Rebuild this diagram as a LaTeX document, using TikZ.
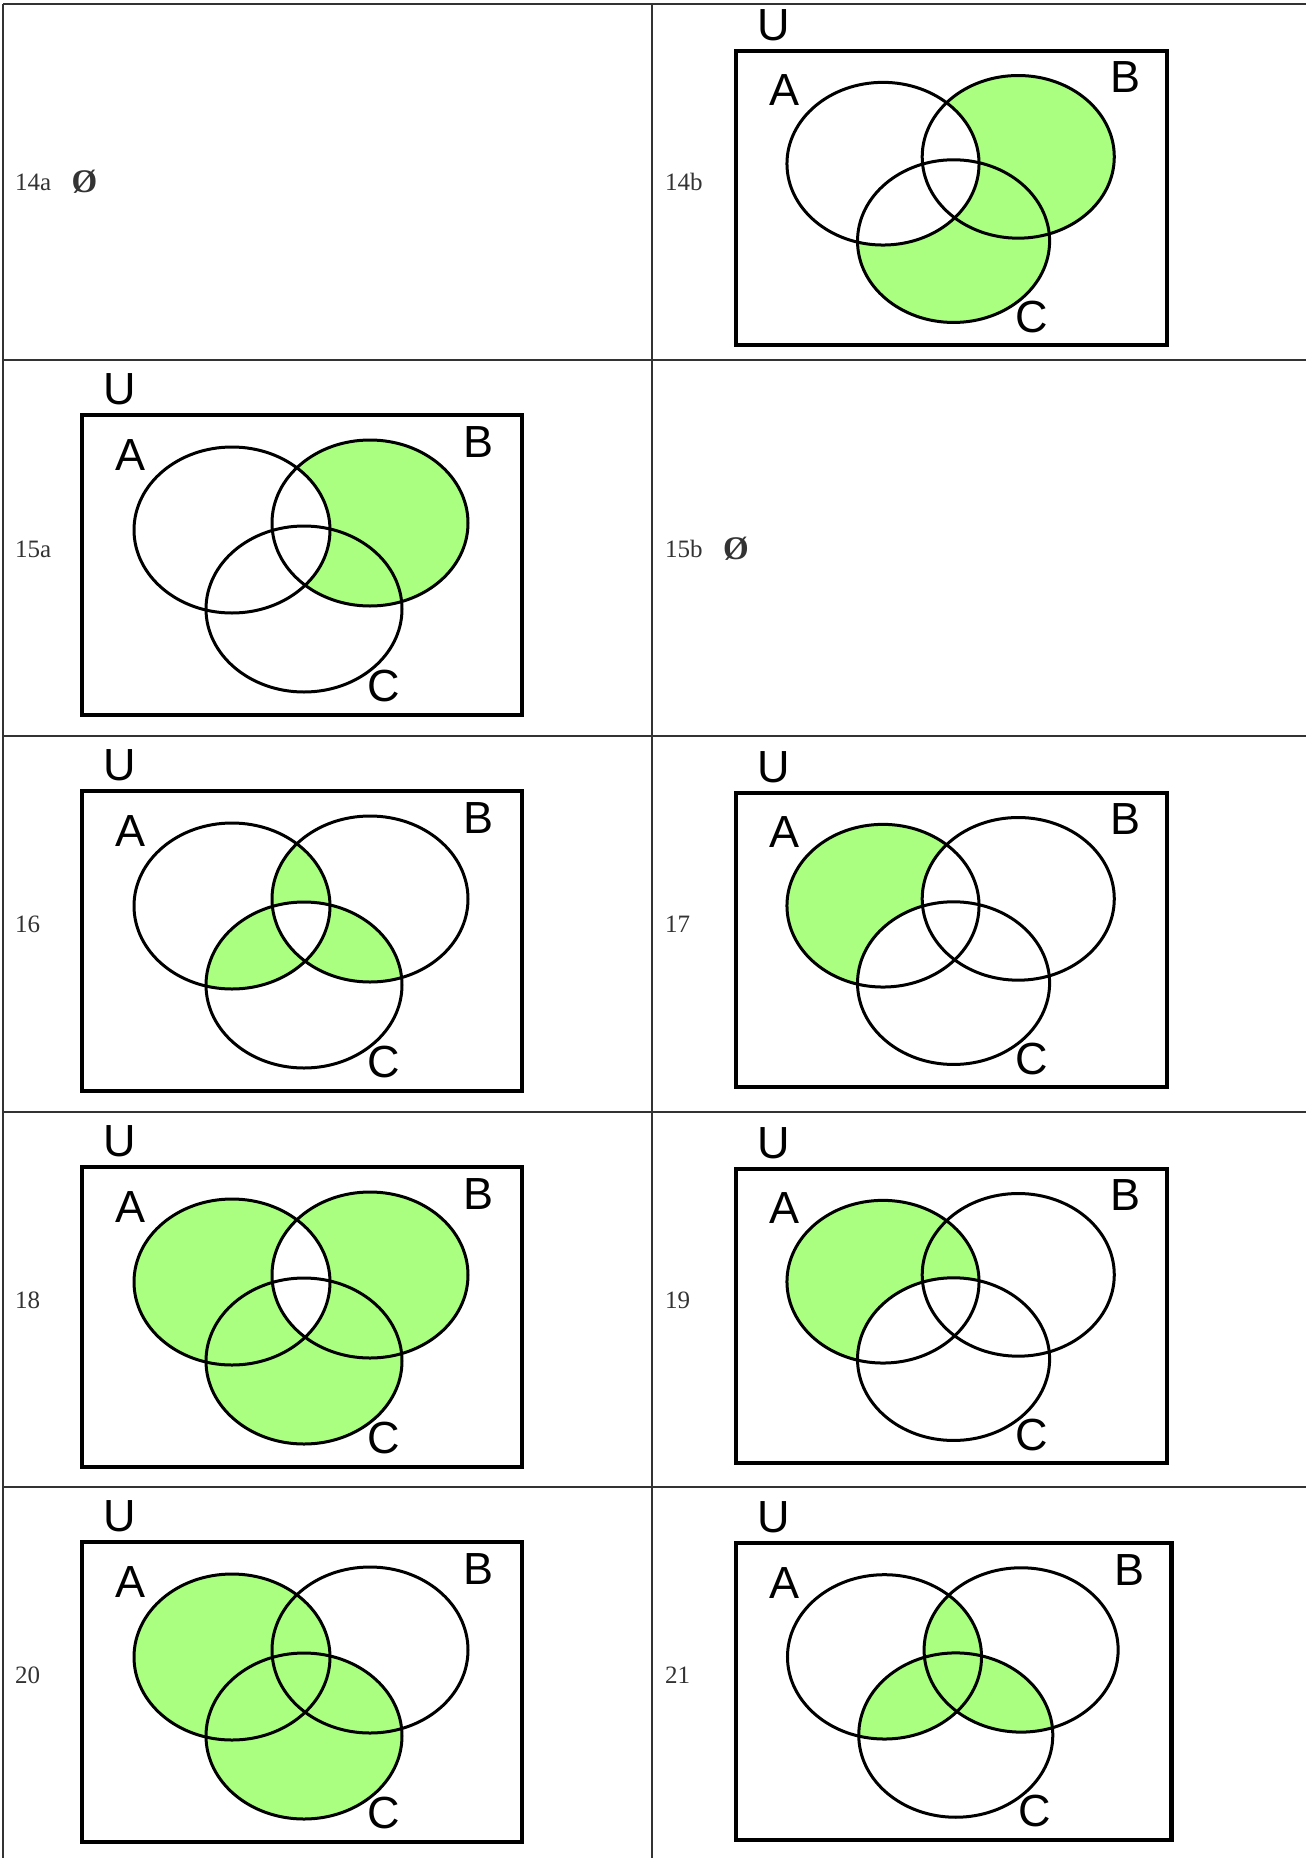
\documentclass[tikz,border=0pt]{standalone}
\usepackage{fontspec}
\setmainfont{Liberation Serif}
\setsansfont{Liberation Sans}
\usepackage{tikz}
\usetikzlibrary{calc,positioning}

\definecolor{vgreen}{RGB}{170,255,128}
\definecolor{rule}{RGB}{51,51,51}
\newcommand{\regA}{(150,115) ellipse[oval]}
\newcommand{\regB}{(288,108) ellipse[oval]}
\newcommand{\regC}{(222,194) ellipse[oval]}

\begin{document}
\begin{tikzpicture}[x=1pt,y=-1pt]

     \tikzstyle{every node}=[inner sep=0pt]
     \tikzstyle{grid}=[draw=rule,line width=2pt]
     \tikzstyle{num}=[anchor=west,text=rule,font=\fontsize{25}{25}\selectfont]
     \tikzstyle{empty}=[text=rule,font=\bfseries\fontsize{33}{33}\selectfont]
     \tikzstyle{setname}=[font=\sffamily\fontsize{45}{45}\selectfont]
     \tikzstyle{shade}=[fill=vgreen]
     \tikzstyle{blank}=[fill=white]
     \tikzstyle{ring}=[line width=3pt]
     \tikzstyle{box}=[line width=4.5pt]
     \tikzstyle{oval}=[x radius=98,y radius=83]
     \useasboundingbox (0,0) rectangle (1306,1858);

     % table
     \draw[grid](3,4)--(1306,4);
     \draw[grid](3,360)--(1306,360);
     \draw[grid](3,736)--(1306,736);
     \draw[grid](3,1112)--(1306,1112);
     \draw[grid](3,1487)--(1306,1487);
     \draw[grid](3,4)--(3,1858);
     \draw[grid](652,4)--(652,1858);

     \node[num](n14a) at (15,182){14a};
     \node[empty,right=20pt of n14a](e14a){Ø};
     \node[num](n14b) at (665,182){14b};
     \node[num](n15a) at (15,549){15a};
     \node[num](n15b) at (665,549){15b};
     \node[empty,right=20pt of n15b](e15b){Ø};
     \node[num](n16) at (15,924){16};
     \node[num](n17) at (665,924){17};
     \node[num](n18) at (15,1300){18};
     \node[num](n19) at (665,1300){19};
     \node[num](n20) at (15,1675){20};
     \node[num](n21) at (665,1675){21};

     % shaded parts
     \begin{scope}[shift={(736,51)},scale=0.98]
       \fill[shade]\regB;\fill[shade]\regC;
       \fill[blank]\regA;
     \end{scope}
     \begin{scope}[shift={(82,415)}]
       \fill[shade]\regB;
       \fill[blank]\regA;
     \end{scope}
     \begin{scope}[shift={(82,791)}]
       \begin{scope}\clip\regA;\fill[shade]\regB;\fill[shade]\regC;\end{scope}
       \begin{scope}\clip\regB;\fill[shade]\regC;\end{scope}
       \begin{scope}\clip\regA;\clip\regB;\fill[blank]\regC;\end{scope}
     \end{scope}
     \begin{scope}[shift={(736,793)},scale=0.98]
       \fill[shade]\regA;
       \fill[blank]\regB;\fill[blank]\regC;
     \end{scope}
     \begin{scope}[shift={(82,1167)}]
       \fill[shade]\regA;\fill[shade]\regB;\fill[shade]\regC;
       \begin{scope}\clip\regA;\fill[blank]\regB;\end{scope}
     \end{scope}
     \begin{scope}[shift={(736,1169)},scale=0.98]
       \fill[shade]\regA;
       \fill[blank]\regC;
     \end{scope}
     \begin{scope}[shift={(82,1542)}]
       \fill[shade]\regA;\fill[shade]\regC;
     \end{scope}
     \begin{scope}[shift={(736,1543)},scale=0.99]
       \begin{scope}\clip\regA;\fill[shade]\regB;\fill[shade]\regC;\end{scope}
       \begin{scope}\clip\regB;\fill[shade]\regC;\end{scope}
     \end{scope}

     % frames, circles and set names
     \foreach \dx/\dy/\s/\id in {736/51/0.98/14b,82/415/1/15a,82/791/1/16,736/793/0.98/17,
                                  82/1167/1/18,736/1169/0.98/19,82/1542/1/20,736/1543/0.99/21}{
       \begin{scope}[shift={(\dx,\dy)},scale=\s]
         \draw[box](0,0)rectangle(440,300);
         \draw[ring]\regA;\draw[ring]\regB;\draw[ring]\regC;
         \node[setname](U\id) at (38,-26){U};
         \node[setname](A\id) at (49,40){A};
         \node[setname](B\id) at (397,27){B};
         \node[setname](C\id) at (302,271){C};
       \end{scope}
     }

\end{tikzpicture}
\end{document}
